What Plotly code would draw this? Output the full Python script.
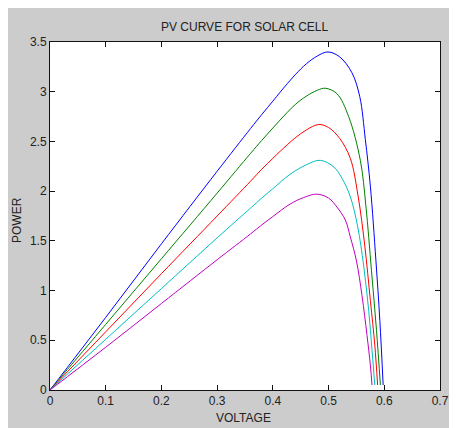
import plotly.graph_objects as go

# Data (voltage, power) for each curve
v_blue = [0, 0.1, 0.2, 0.3, 0.36, 0.38, 0.4, 0.413, 0.44, 0.46, 0.48, 0.499, 0.52, 0.542, 0.556, 0.566, 0.575, 0.585, 0.592, 0.598]
p_blue = [0, 0.73, 1.47, 2.2, 2.63, 2.77, 2.905, 2.995, 3.17, 3.28, 3.36, 3.40, 3.35, 3.19, 2.95, 2.52, 2.05, 1.3, 0.7, 0.05]

v_green = [0, 0.1, 0.2, 0.3, 0.36, 0.38, 0.4, 0.413, 0.44, 0.46, 0.48, 0.494, 0.515, 0.536, 0.557, 0.567, 0.577, 0.586, 0.593]
p_green = [0, 0.66, 1.32, 1.98, 2.38, 2.51, 2.635, 2.715, 2.87, 2.955, 3.015, 3.035, 2.98, 2.75, 2.31, 1.85, 1.2, 0.6, 0.05]

v_red = [0, 0.1, 0.2, 0.3, 0.36, 0.38, 0.4, 0.413, 0.44, 0.46, 0.482, 0.5, 0.52, 0.539, 0.553, 0.565, 0.575, 0.583, 0.588]
p_red = [0, 0.585, 1.17, 1.75, 2.10, 2.22, 2.33, 2.40, 2.535, 2.615, 2.67, 2.64, 2.53, 2.33, 1.95, 1.45, 0.9, 0.45, 0.05]

v_cyan = [0, 0.1, 0.2, 0.3, 0.36, 0.38, 0.4, 0.431, 0.46, 0.485, 0.51, 0.525, 0.539, 0.552, 0.563, 0.572, 0.578, 0.583]
p_cyan = [0, 0.51, 1.02, 1.53, 1.83, 1.93, 2.025, 2.17, 2.265, 2.31, 2.24, 2.12, 1.945, 1.65, 1.25, 0.8, 0.4, 0.05]

v_mag = [0, 0.1, 0.2, 0.3, 0.36, 0.38, 0.4, 0.431, 0.455, 0.479, 0.5, 0.515, 0.53, 0.539, 0.55, 0.56, 0.569, 0.575, 0.578]
p_mag = [0, 0.43, 0.87, 1.31, 1.57, 1.66, 1.745, 1.87, 1.935, 1.97, 1.93, 1.84, 1.71, 1.54, 1.3, 0.95, 0.55, 0.25, 0.05]

x_ticks = [0, 0.1, 0.2, 0.3, 0.4, 0.5, 0.6, 0.7]
x_tick_labels = ["0", "0.1", "0.2", "0.3", "0.4", "0.5", "0.6", "0.7"]
y_ticks = [0, 0.5, 1, 1.5, 2, 2.5, 3, 3.5]
y_tick_labels = ["0", "0.5", "1", "1.5", "2", "2.5", "3", "3.5"]

series = [
    (v_blue, p_blue, "#0000ff"),
    (v_green, p_green, "#008000"),
    (v_red, p_red, "#ff0000"),
    (v_cyan, p_cyan, "#00bfbf"),
    (v_mag, p_mag, "#bf00bf"),
]

FONT = "Liberation Sans, Arial, sans-serif"
TXT = "#222222"

fig = go.Figure()
for vx, py, col in series:
    fig.add_trace(go.Scatter(x=vx, y=py, mode="lines",
                             line=dict(color=col, width=1, shape="spline", smoothing=1.0),
                             showlegend=False, hoverinfo="skip"))

# The page body has an 8px margin; the figure starts at (8, 8)
OFF = 8
W, H = 452, 422
PL, PR, PT, PB = 50, 440, 42, 390   # plot area in page pixels
L, R, T, B = PL - OFF, W - (PR - OFF), PT - OFF, H - (PB - OFF)
pw, ph = PR - PL, PB - PT

def px2x(px):
    return (px - PL) / pw

def py2y(py):
    return (PB - py) / ph

axis_common = dict(showgrid=False, zeroline=False, showline=True, linecolor="#111111",
                   linewidth=1, mirror="ticks", ticks="inside", ticklen=5,
                   tickcolor="#111111", tickfont=dict(family=FONT, size=12, color=TXT))

fig.update_layout(
    width=W, height=H,
    margin=dict(l=L, r=R, t=T, b=B),
    paper_bgcolor="#cccccc",
    plot_bgcolor="white",
    xaxis=dict(range=[0, 0.7], tickvals=x_ticks, ticktext=x_tick_labels, **axis_common),
    yaxis=dict(range=[0, 3.5], tickvals=y_ticks, ticktext=y_tick_labels, **axis_common),
    annotations=[
        dict(text="PV CURVE FOR SOLAR CELL", xref="paper", yref="paper",
             x=px2x(244), y=py2y(27), showarrow=False, xanchor="center", yanchor="middle",
             font=dict(family=FONT, size=12, color=TXT)),
        dict(text="VOLTAGE", xref="paper", yref="paper",
             x=px2x(243), y=py2y(418), showarrow=False, xanchor="center", yanchor="middle",
             font=dict(family=FONT, size=12, color=TXT)),
        dict(text="POWER", xref="paper", yref="paper", textangle=-90,
             x=px2x(17), y=py2y(220), showarrow=False, xanchor="center", yanchor="middle",
             font=dict(family=FONT, size=12, color=TXT)),
    ],
)

fig.write_html("out.html")
